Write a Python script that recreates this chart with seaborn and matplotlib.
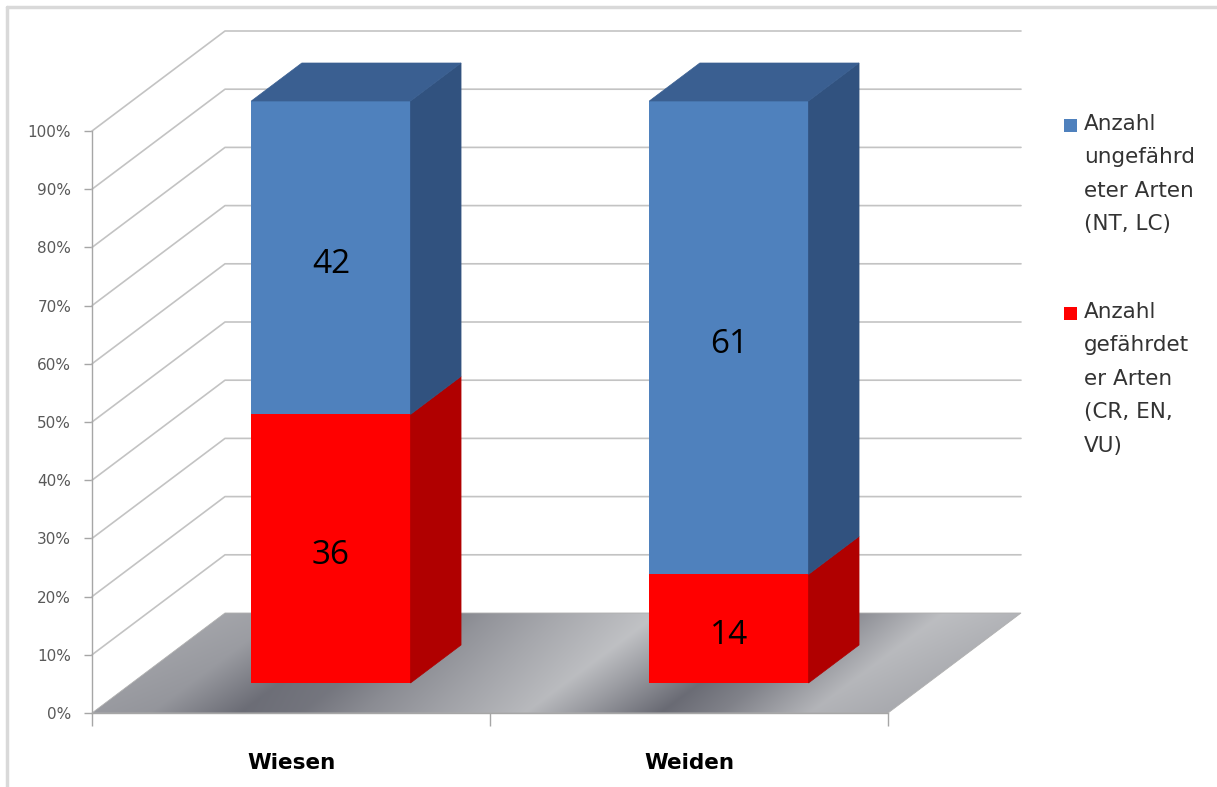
import numpy as np
import pandas as pd
import matplotlib
matplotlib.use("Agg")
import matplotlib.pyplot as plt
import seaborn as sns
from matplotlib.patches import Polygon, Rectangle
from matplotlib.lines import Line2D
from matplotlib.transforms import IdentityTransform, ScaledTranslation

# ---- data -------------------------------------------------------------
categories = ["Wiesen", "Weiden"]
threatened = [36, 14]        # Anzahl gefährdeter Arten (CR, EN, VU)
unthreatened = [42, 61]      # Anzahl ungefährdeter Arten (NT, LC)
y_ticks = list(range(0, 101, 10))
y_tick_labels = [f"{t}%" for t in y_ticks]
legend_labels = [
    "Anzahl\nungefährd\neter Arten\n(NT, LC)",
    "Anzahl\ngefährdet\ner Arten\n(CR, EN,\nVU)",
]

# ---- style ------------------------------------------------------------
BLUE, BLUE_TOP, BLUE_SIDE = "#4f81bd", "#3a5f91", "#31527f"
RED, RED_SIDE = "#ff0000", "#b00000"
GRID = "#c3c3c3"
AXIS = "#a6a6a6"

sns.set_theme(style="white")
plt.rcParams["font.family"] = ["DejaVu Sans"]

W, H, DPI = 1217, 787, 100
fig = plt.figure(figsize=(W / DPI, H / DPI), dpi=DPI)
fig.patch.set_facecolor("white")

# full-figure pixel canvas for decorations (floor shading, legend, frame)
ax_bg = fig.add_axes([0, 0, 1, 1], zorder=0)
ax_bg.set_xlim(0, W)
ax_bg.set_ylim(H, 0)
ax_bg.axis("off")

# front plane of the 3-D chart
ax = fig.add_axes([92 / W, 74 / H, 796 / W, 582 / H], zorder=1)
ax.patch.set_alpha(0)

# perspective depth of the floor (inches) and bar placement in depth
DX_IN, DY_IN = 1.33, 1.00
D0, D1 = 0.30, 0.68
BAR_W = 0.4

totals = [a + b for a, b in zip(threatened, unthreatened)]
pct_red = [100 * a / t for a, t in zip(threatened, totals)]
pct_all = [100.0 for _ in totals]

df = pd.DataFrame({"Kategorie": categories, "gesamt": pct_all, "gefaehrdet": pct_red})

sns.barplot(data=df, x="Kategorie", y="gesamt", color=BLUE, width=BAR_W,
            saturation=1, linewidth=0, errorbar=None, ax=ax)
sns.barplot(data=df, x="Kategorie", y="gefaehrdet", color=RED, width=BAR_W,
            saturation=1, linewidth=0, errorbar=None, ax=ax)
ax.set_xlim(-0.5, 1.5)
ax.set_ylim(0, 100)
ax.set_xlabel("")
ax.set_ylabel("")


def depth_shift(d, dy_extra=0.0):
    return ax.transData + ScaledTranslation(DX_IN * d, DY_IN * d + dy_extra,
                                            fig.dpi_scale_trans)


front = depth_shift(D0)
for p in ax.patches:
    p.set_transform(front)
    p.set_zorder(3)
    p.set_clip_on(False)

DXPX, DYPX = DX_IN * fig.dpi, DY_IN * fig.dpi


def P(x, v, d):
    """Display position of category-x / value-v at depth fraction d."""
    px, py = ax.transData.transform((x, v))
    return (px + DXPX * d, py + DYPX * d)


def to_bg(pt):
    return (pt[0], H - pt[1])


# ---- floor --------------------------------------------------------------
floor_disp = [P(-0.5, 0, 0), P(1.5, 0, 0), P(1.5, 0, 1), P(-0.5, 0, 1)]
floor_bg = [to_bg(p) for p in floor_disp]
floor_poly = Polygon(floor_bg, closed=True, facecolor="none", edgecolor="#b0b0b0",
                     linewidth=0.6, zorder=2)
ax_bg.add_patch(floor_poly)

xs_b = [p[0] for p in floor_bg]
ys_b = [p[1] for p in floor_bg]
xmin, xmax, ymin, ymax = min(xs_b), max(xs_b), min(ys_b), max(ys_b)
nx, ny = 900, 120
gx = np.linspace(xmin, xmax, nx)
gy = np.linspace(ymin, ymax, ny)
GX, GY = np.meshgrid(gx, gy)
t = np.clip((floor_bg[0][1] - GY) / DYPX, 0, 1)          # 0 front, 1 back
front_w = floor_bg[1][0] - floor_bg[0][0]
u = (GX - DXPX * t - floor_bg[0][0]) / front_w            # brushed-metal bands
stops_f = [-0.2, 0.0, 0.073, 0.186, 0.261, 0.337, 0.425, 0.544, 0.613,
           0.714, 0.789, 0.902, 1.0, 1.2]
stops_g = [0.62, 0.60, 0.58, 0.42, 0.45, 0.54, 0.62, 0.72, 0.60,
           0.41, 0.50, 0.70, 0.66, 0.66]
g = np.interp(u, stops_f, stops_g) + 0.04 * t
rgb = np.clip(np.dstack([g, g + 0.005, g + 0.07 * (1 - g)]), 0, 1)
im = ax_bg.imshow(rgb, extent=(xmin, xmax, ymax, ymin), origin="upper",
                  aspect="auto", interpolation="bilinear", zorder=1)
im.set_clip_path(floor_poly)
ax_bg.set_xlim(0, W)
ax_bg.set_ylim(H, 0)

# ---- walls: gridlines on side and back wall ----------------------------
for v in y_ticks[1:]:
    pts = [P(-0.5, v, 0), P(-0.5, v, 1), P(1.5, v, 1)]
    ax.add_line(Line2D([p[0] for p in pts], [p[1] for p in pts],
                       transform=IdentityTransform(), color=GRID, lw=1.2,
                       zorder=1, clip_on=False))

# ---- bars: side and top faces -------------------------------------------
label_tr = depth_shift(D0, dy_extra=-0.03)
for i in range(len(categories)):
    xr = i + BAR_W / 2
    xl = i - BAR_W / 2
    segments = [(0, pct_red[i], RED_SIDE), (pct_red[i], 100, BLUE_SIDE)]
    for v0, v1, col in segments:
        side = [P(xr, v0, D0), P(xr, v0, D1), P(xr, v1, D1), P(xr, v1, D0)]
        ax.add_patch(Polygon(side, closed=True, transform=IdentityTransform(),
                             facecolor=col, edgecolor=col, lw=0.5, zorder=3, clip_on=False))
    top = [P(xl, 100, D0), P(xr, 100, D0), P(xr, 100, D1), P(xl, 100, D1)]
    ax.add_patch(Polygon(top, closed=True, transform=IdentityTransform(),
                         facecolor=BLUE_TOP, edgecolor=BLUE_TOP, lw=0.5, zorder=3, clip_on=False))

    # value labels on the front faces
    ax.text(i, pct_red[i] / 2, str(threatened[i]), transform=label_tr, ha="center",
            va="center_baseline", fontsize=24, family="Open Sans", color="black",
            zorder=5, clip_on=False)
    ax.text(i, (pct_red[i] + 100) / 2, str(unthreatened[i]), transform=label_tr, ha="center",
            va="center_baseline", fontsize=24, family="Open Sans", color="black",
            zorder=5, clip_on=False)

# ---- axes ---------------------------------------------------------------
for s in ["top", "right"]:
    ax.spines[s].set_visible(False)
for s in ["left", "bottom"]:
    ax.spines[s].set_color(AXIS)
    ax.spines[s].set_linewidth(1.0)
    ax.spines[s].set_zorder(2)

ax.set_yticks(y_ticks, y_tick_labels)
ax.tick_params(axis="y", left=True, length=6, width=1, color=AXIS,
               labelcolor="#595959", labelsize=11, pad=9, direction="out")
ax.set_xticks([0, 1], categories)
ax.set_xticks([-0.5, 0.5, 1.5], minor=True)
ax.tick_params(axis="x", which="major", bottom=False, length=0, pad=29,
               labelsize=15.5, labelcolor="black")
ax.tick_params(axis="x", which="minor", bottom=True, length=9, width=1,
               color=AXIS, direction="out")
for lbl in ax.get_xticklabels():
    lbl.set_fontweight("bold")

# ---- legend -------------------------------------------------------------
legend_colors = [BLUE, RED]
legend_tops = [114, 302]
for lab, col, ytop in zip(legend_labels, legend_colors, legend_tops):
    ax_bg.add_patch(Rectangle((1064, ytop + 5), 13, 13, facecolor=col,
                              edgecolor="none", zorder=3))
    ax_bg.text(1084, ytop, lab, ha="left", va="top", fontsize=15.5,
               color="#333333", linespacing=1.84, zorder=3)

# ---- outer frame --------------------------------------------------------
ax_bg.add_line(Line2D([7, W], [7, 7], color="#d9d9d9", lw=2.5, zorder=0))
ax_bg.add_line(Line2D([7, 7], [7, H], color="#d9d9d9", lw=2.5, zorder=0))

fig.savefig("out.png", dpi=DPI, facecolor="white")
